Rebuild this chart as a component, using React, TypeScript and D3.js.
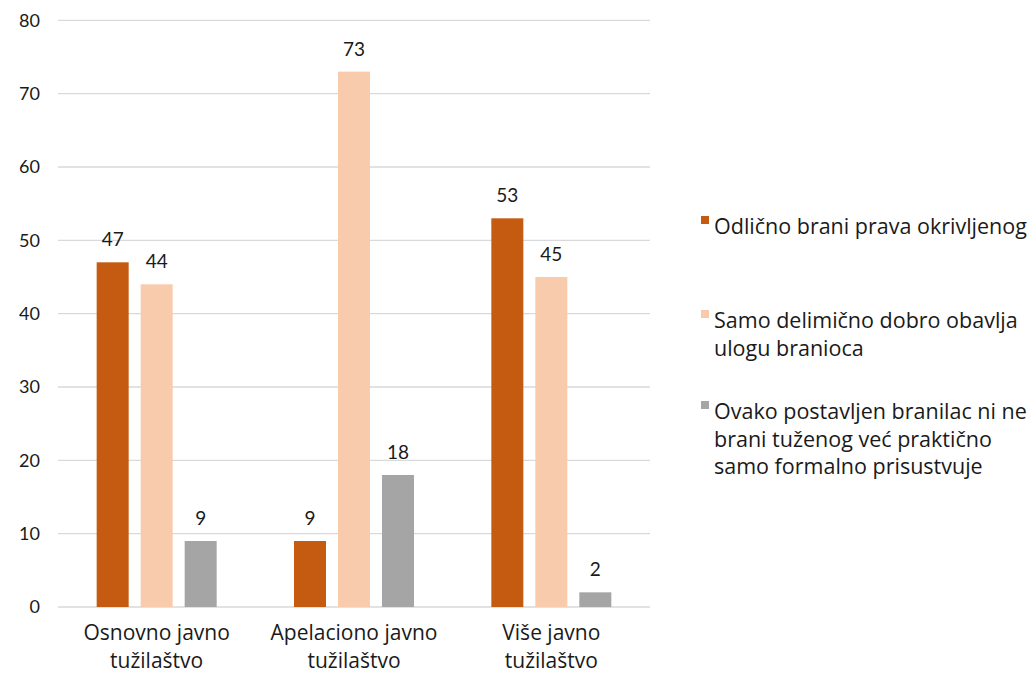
import React, { useRef, useEffect } from 'react';
import * as d3 from 'd3';

const categories = [
  ['Osnovno javno', 'tužilaštvo'],
  ['Apelaciono javno', 'tužilaštvo'],
  ['Više javno', 'tužilaštvo'],
];
const seriesNames = [
  ['Odlično brani prava okrivljenog'],
  ['Samo delimično dobro obavlja', 'ulogu branioca'],
  ['Ovako postavljen branilac ni ne', 'brani tuženog već praktično', 'samo formalno prisustvuje'],
];
const odlicno = [47, 9, 53];
const delimicno = [44, 73, 45];
const formalno = [9, 18, 2];
const yTicks = [0, 10, 20, 30, 40, 50, 60, 70, 80];
const colors = ['#C55A11', '#F8CBAD', '#A5A5A5'];

const FONT = 'Lato, "Open Sans", sans-serif';
const WIDE = '"Open Sans", Lato, sans-serif';

const App = () => {
  const ref = useRef<SVGSVGElement>(null);

  useEffect(() => {
    const svg = d3.select(ref.current);
    svg.selectAll('*').remove();

    const left = 58, right = 650, top = 20.3, bottom = 607;
    const series = [odlicno, delimicno, formalno];

    const x0 = d3.scaleBand<number>()
      .domain(categories.map((_, i) => i))
      .range([left, right]);
    const groupW = 120;
    const x1 = d3.scaleBand<number>()
      .domain([0, 1, 2])
      .range([0, groupW])
      .paddingInner(12 / 44);
    const y = d3.scaleLinear().domain([0, 80]).range([bottom, top]);

    // gridlines
    svg.append('g')
      .selectAll('line')
      .data(yTicks)
      .enter()
      .append('line')
      .attr('x1', left).attr('x2', right)
      .attr('y1', d => y(d)).attr('y2', d => y(d))
      .attr('stroke', '#D9D9D9')
      .attr('stroke-width', 1.3);

    // y tick labels
    svg.append('g')
      .selectAll('text')
      .data(yTicks)
      .enter()
      .append('text')
      .attr('x', 40)
      .attr('y', d => y(d))
      .attr('dy', '0.35em')
      .attr('text-anchor', 'end')
      .attr('font-family', FONT)
      .attr('font-size', 18)
      .attr('fill', '#1a1a1a')
      .text(d => d);

    // bars
    const groups = svg.append('g')
      .selectAll('g')
      .data(categories.map((_, i) => i))
      .enter()
      .append('g')
      .attr('transform', i => `translate(${x0(i)! + (x0.bandwidth() - groupW) / 2},0)`);

    groups.selectAll('rect')
      .data(i => series.map((s, k) => ({ k, v: s[i] })))
      .enter()
      .append('rect')
      .attr('x', d => x1(d.k)!)
      .attr('y', d => y(d.v))
      .attr('width', x1.bandwidth())
      .attr('height', d => bottom - y(d.v))
      .attr('fill', d => colors[d.k]);

    groups.selectAll('text.val')
      .data(i => series.map((s, k) => ({ k, v: s[i] })))
      .enter()
      .append('text')
      .attr('class', 'val')
      .attr('x', d => x1(d.k)! + x1.bandwidth() / 2)
      .attr('y', d => y(d.v) - 16)
      .attr('text-anchor', 'middle')
      .attr('font-family', FONT)
      .attr('font-size', 19)
      .attr('fill', '#1a1a1a')
      .text(d => d.v);

    // category labels (one text per line)
    categories.forEach((lines, i) => {
      svg.append('g')
        .selectAll('text')
        .data(lines)
        .enter()
        .append('text')
        .attr('x', x0(i)! + x0.bandwidth() / 2)
        .attr('y', (_, j) => 640 + j * 27.5)
        .attr('text-anchor', 'middle')
        .attr('font-family', WIDE)
        .attr('font-size', 21)
        .attr('fill', '#1a1a1a')
        .text(d => d);
    });

    // legend
    const legendY = [227, 321, 412];
    const leg = svg.append('g')
      .selectAll('g')
      .data(seriesNames)
      .enter()
      .append('g')
      .attr('transform', (_, i) => `translate(701,${legendY[i]})`);
    leg.append('rect')
      .attr('x', 0).attr('y', -11)
      .attr('width', 8).attr('height', 8)
      .attr('fill', (_, i) => colors[i]);
    const lt = leg.append('text')
      .attr('x', 13)
      .attr('y', 0)
      .attr('font-family', WIDE)
      .attr('font-size', 21.5)
      .attr('fill', '#1a1a1a');
    lt.selectAll('tspan')
      .data(d => d)
      .enter()
      .append('tspan')
      .attr('x', 13)
      .attr('y', (_, j) => 7 + j * 27.5)
      .text(d => d);
  }, []);

  return (
    <svg ref={ref} width={1034} height={673}
      style={{ position: 'absolute', left: 0, top: 0, background: '#fff' }} />
  );
};

export default App;
